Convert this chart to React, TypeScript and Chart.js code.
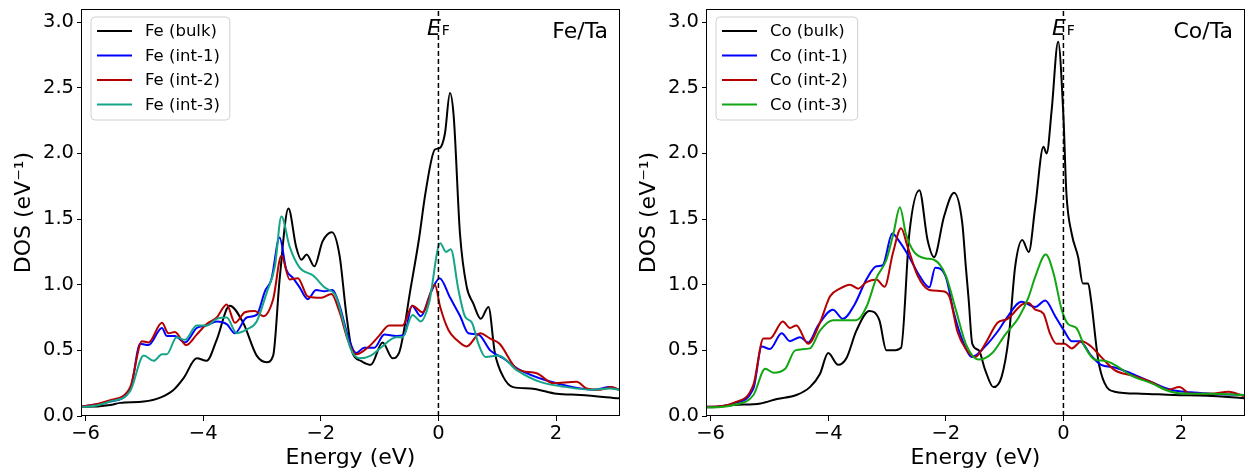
import React, { useEffect, useRef } from 'react';
import { Chart, registerables } from 'chart.js';

Chart.register(...registerables);

// ---------- axes ----------
const X_MIN = -6.06;
const X_MAX = 3.07;
const Y_MIN = 0;
const Y_MAX = 3.1;
const X_TICKS = [-6, -4, -2, 0, 2];
const Y_TICKS = [0, 0.5, 1.0, 1.5, 2.0, 2.5, 3.0];
const X_TITLE = 'Energy (eV)';
const Y_TITLE = 'DOS (eV\u207B\u00B9)';

// ---------- Fe/Ta panel ----------
const FE_LABELS = ['Fe (bulk)', 'Fe (int-1)', 'Fe (int-2)', 'Fe (int-3)'];
const FE_COLORS = ['#000000', '#0000ff', '#b40000', '#14a589'];

const feBulkE = [-6.06, -6.0, -5.58, -5.41, -5.01, -4.73, -4.5, -4.33, -4.11, -3.94, -3.77, -3.55, -3.32, -3.09, -2.92, -2.81, -2.7, -2.55, -2.42, -2.33, -2.24, -2.11, -1.97, -1.81, -1.68, -1.57, -1.46, -1.32, -1.15, -0.95, -0.78, -0.67, -0.47, -0.33, -0.22, -0.06, 0.02, 0.11, 0.196, 0.26, 0.366, 0.48, 0.59, 0.72, 0.85, 0.96, 1.1, 1.27, 1.56, 2.01, 2.41, 3.07];
const feBulkDos = [0.07, 0.07, 0.084, 0.1, 0.11, 0.14, 0.2, 0.29, 0.44, 0.42, 0.58, 0.84, 0.71, 0.46, 0.41, 0.46, 1.04, 1.58, 1.29, 1.19, 1.23, 1.14, 1.33, 1.4, 1.22, 0.79, 0.48, 0.42, 0.39, 0.56, 0.44, 0.48, 0.98, 1.35, 1.7, 2.03, 2.04, 2.15, 2.46, 2.28, 1.39, 0.985, 0.86, 0.74, 0.83, 0.48, 0.3, 0.22, 0.21, 0.17, 0.16, 0.135];

const feInt1E = [-6.06, -6.0, -5.58, -5.24, -5.07, -4.93, -4.7, -4.62, -4.48, -4.31, -4.11, -3.94, -3.77, -3.6, -3.46, -3.26, -3.09, -2.95, -2.84, -2.7, -2.59, -2.47, -2.36, -2.22, -2.08, -1.94, -1.8, -1.68, -1.54, -1.4, -1.26, -1.09, -0.92, -0.72, -0.58, -0.45, -0.3, -0.13, 0.02, 0.2, 0.37, 0.51, 0.68, 0.88, 1.1, 1.39, 1.84, 2.29, 2.63, 2.92, 3.07];
const feInt1Dos = [0.075, 0.076, 0.11, 0.2, 0.55, 0.54, 0.67, 0.61, 0.61, 0.56, 0.67, 0.69, 0.72, 0.7, 0.63, 0.75, 0.77, 0.95, 1.04, 1.36, 1.12, 1.05, 0.98, 0.89, 0.96, 0.95, 0.96, 0.84, 0.61, 0.48, 0.52, 0.52, 0.62, 0.61, 0.62, 0.84, 0.76, 0.94, 1.05, 0.9, 0.76, 0.63, 0.62, 0.5, 0.44, 0.35, 0.27, 0.22, 0.2, 0.22, 0.2];

const feInt2E = [-6.06, -6.0, -5.58, -5.24, -5.04, -4.93, -4.7, -4.59, -4.48, -4.29, -4.11, -3.94, -3.77, -3.6, -3.46, -3.29, -3.12, -2.98, -2.81, -2.67, -2.53, -2.39, -2.22, -1.99, -1.82, -1.68, -1.54, -1.4, -1.18, -1.01, -0.84, -0.61, -0.44, -0.27, -0.06, 0.03, 0.17, 0.31, 0.48, 0.71, 0.88, 1.04, 1.33, 1.67, 1.95, 2.35, 2.52, 2.75, 2.94, 3.07];
const feInt2Dos = [0.075, 0.076, 0.12, 0.22, 0.57, 0.56, 0.71, 0.63, 0.64, 0.54, 0.62, 0.7, 0.75, 0.85, 0.71, 0.79, 0.8, 0.76, 0.89, 1.22, 1.04, 1.05, 0.91, 0.9, 0.93, 0.79, 0.58, 0.47, 0.53, 0.61, 0.69, 0.69, 0.84, 0.79, 1.0, 0.83, 0.655, 0.58, 0.53, 0.63, 0.59, 0.55, 0.36, 0.325, 0.25, 0.26, 0.21, 0.2, 0.22, 0.2];

const feInt3E = [-6.06, -6.0, -5.58, -5.24, -5.01, -4.84, -4.7, -4.62, -4.45, -4.31, -4.11, -3.94, -3.77, -3.6, -3.43, -3.26, -3.09, -2.92, -2.78, -2.67, -2.53, -2.36, -2.13, -1.94, -1.74, -1.63, -1.49, -1.34, -1.15, -0.98, -0.72, -0.61, -0.44, -0.3, -0.16, 0.03, 0.13, 0.21, 0.34, 0.45, 0.57, 0.68, 0.8, 1.02, 1.33, 1.73, 2.18, 2.63, 2.92, 3.07];
const feInt3Dos = [0.07, 0.07, 0.11, 0.19, 0.46, 0.42, 0.47, 0.47, 0.6, 0.58, 0.69, 0.69, 0.74, 0.75, 0.63, 0.66, 0.72, 0.94, 1.14, 1.52, 1.29, 1.13, 1.07, 0.98, 0.91, 0.74, 0.51, 0.44, 0.46, 0.52, 0.6, 0.6, 0.77, 0.72, 0.86, 1.315, 1.25, 1.27, 0.96, 0.76, 0.71, 0.55, 0.45, 0.46, 0.35, 0.26, 0.22, 0.2, 0.21, 0.2];

// ---------- Co/Ta panel ----------
const CO_LABELS = ['Co (bulk)', 'Co (int-1)', 'Co (int-2)', 'Co (int-3)'];
const CO_COLORS = ['#000000', '#0000ff', '#b40000', '#12a612'];

const coBulkE = [-6.06, -6.0, -5.61, -5.15, -4.87, -4.54, -4.31, -4.14, -4.0, -3.83, -3.69, -3.52, -3.3, -3.13, -3.01, -2.9, -2.76, -2.62, -2.45, -2.31, -2.2, -2.03, -1.86, -1.72, -1.66, -1.61, -1.55, -1.44, -1.33, -1.19, -1.05, -0.93, -0.82, -0.7, -0.59, -0.48, -0.34, -0.285, -0.2, -0.09, 0.0, 0.05, 0.14, 0.25, 0.33, 0.42, 0.47, 0.59, 0.7, 0.87, 1.32, 1.88, 2.45, 3.07];
const coBulkDos = [0.066, 0.066, 0.084, 0.096, 0.13, 0.16, 0.22, 0.32, 0.48, 0.39, 0.44, 0.65, 0.8, 0.73, 0.5, 0.5, 0.52, 1.39, 1.72, 1.34, 1.21, 1.52, 1.7, 1.47, 1.14, 0.88, 0.55, 0.5, 0.35, 0.22, 0.3, 0.6, 1.14, 1.34, 1.25, 1.59, 2.05, 2.0, 2.33, 2.85, 2.28, 1.7, 1.39, 1.21, 1.01, 1.01, 0.88, 0.43, 0.25, 0.185, 0.17, 0.16, 0.155, 0.135];

const coInt1E = [-6.06, -6.0, -5.61, -5.27, -5.13, -4.99, -4.79, -4.65, -4.48, -4.34, -4.17, -3.92, -3.75, -3.55, -3.35, -3.18, -3.07, -2.91, -2.79, -2.62, -2.45, -2.28, -2.18, -2.0, -1.86, -1.72, -1.55, -1.33, -1.1, -0.99, -0.71, -0.48, -0.31, -0.14, 0.01, 0.14, 0.28, 0.47, 0.64, 0.87, 1.15, 1.49, 1.83, 2.16, 2.5, 3.07];
const coInt1Dos = [0.07, 0.07, 0.096, 0.21, 0.53, 0.51, 0.63, 0.57, 0.6, 0.56, 0.69, 0.81, 0.74, 0.85, 1.04, 1.14, 1.15, 1.39, 1.33, 1.21, 1.07, 0.98, 1.13, 1.06, 0.78, 0.58, 0.45, 0.53, 0.655, 0.73, 0.87, 0.83, 0.88, 0.76, 0.65, 0.57, 0.57, 0.46, 0.39, 0.37, 0.325, 0.26, 0.2, 0.18, 0.17, 0.16];

const coInt2E = [-6.06, -6.0, -5.61, -5.27, -5.1, -4.99, -4.77, -4.65, -4.54, -4.34, -4.14, -3.97, -3.8, -3.63, -3.49, -3.35, -3.18, -3.04, -2.9, -2.76, -2.65, -2.48, -2.28, -2.06, -1.94, -1.8, -1.66, -1.5, -1.33, -1.12, -0.95, -0.7, -0.59, -0.48, -0.34, -0.23, -0.12, 0.02, 0.14, 0.31, 0.47, 0.64, 0.87, 1.15, 1.49, 1.78, 1.97, 2.16, 2.5, 2.81, 3.07];
const coInt2Dos = [0.07, 0.07, 0.1, 0.24, 0.59, 0.59, 0.72, 0.67, 0.69, 0.55, 0.71, 0.91, 0.97, 1.0, 0.97, 1.02, 1.04, 0.985, 1.24, 1.43, 1.29, 1.07, 0.96, 0.95, 0.91, 0.64, 0.51, 0.45, 0.55, 0.71, 0.74, 0.85, 0.86, 0.81, 0.78, 0.63, 0.55, 0.55, 0.515, 0.57, 0.53, 0.45, 0.35, 0.31, 0.26, 0.2, 0.22, 0.17, 0.17, 0.185, 0.15];

const coInt3E = [-6.06, -6.0, -5.61, -5.27, -5.07, -4.93, -4.73, -4.56, -4.31, -4.14, -3.92, -3.69, -3.52, -3.35, -3.18, -3.01, -2.89, -2.78, -2.68, -2.54, -2.34, -2.2, -2.0, -1.83, -1.66, -1.44, -1.21, -0.99, -0.76, -0.59, -0.48, -0.3, -0.17, -0.03, 0.08, 0.22, 0.36, 0.53, 0.7, 0.87, 1.15, 1.49, 1.83, 2.16, 2.5, 3.07];
const coInt3Dos = [0.066, 0.066, 0.084, 0.16, 0.36, 0.33, 0.36, 0.5, 0.515, 0.65, 0.73, 0.73, 0.73, 0.83, 1.05, 1.19, 1.39, 1.59, 1.39, 1.25, 1.2, 1.19, 1.07, 0.81, 0.55, 0.43, 0.48, 0.62, 0.75, 0.91, 1.06, 1.23, 1.09, 0.81, 0.7, 0.67, 0.53, 0.43, 0.42, 0.39, 0.31, 0.25, 0.185, 0.17, 0.17, 0.16];

// Fermi level
const FERMI_E = [0, 0];
const FERMI_DOS = [Y_MIN, Y_MAX];

const FONT = 'DejaVu Sans';

function pts(xs: number[], ys: number[]) {
  return xs.map((x, i) => ({ x, y: ys[i] }));
}

function fmtMinus(v: number, digits: number | null) {
  const s = digits === null ? String(v) : Number(v).toFixed(digits);
  return s.replace('-', '\u2212');
}

const decorPlugin = {
  id: 'decor',
  afterDraw(chart: any, _args: any, opts: any) {
    const ctx = chart.ctx as CanvasRenderingContext2D;
    const ca = chart.chartArea;
    const xs = chart.scales.x;
    ctx.save();

    // frame (spines)
    ctx.strokeStyle = '#000';
    ctx.lineWidth = 1;
    ctx.strokeRect(Math.round(ca.left) - 0.5, Math.round(ca.top) + 0.5, Math.round(ca.right - ca.left) + 1, Math.round(ca.bottom - ca.top) - 1);

    // E_F label
    const x0 = xs.getPixelForValue(0);
    ctx.fillStyle = '#000';
    ctx.textBaseline = 'alphabetic';
    ctx.font = `italic 22px "${FONT}"`;
    const wE = ctx.measureText('E').width;
    ctx.font = `14px "${FONT}"`;
    const wF = ctx.measureText('F').width;
    const total = wE + 1 + wF;
    const sx = x0 - total / 2;
    const by = ca.top + 26;
    ctx.font = `italic 22px "${FONT}"`;
    ctx.textAlign = 'left';
    ctx.fillText('E', sx, by);
    ctx.font = `14px "${FONT}"`;
    ctx.fillText('F', sx + wE + 1, by);

    // panel label
    ctx.font = `22px "${FONT}"`;
    ctx.textAlign = 'right';
    ctx.fillText(opts.panelLabel, ca.right - 11, ca.top + 29);

    // legend
    const ds = chart.data.datasets.filter((d: any) => !d.isRef);
    ctx.font = `16.5px "${FONT}"`;
    let maxW = 0;
    ds.forEach((d: any) => { maxW = Math.max(maxW, ctx.measureText(d.label).width); });
    const bx = ca.left + 9;
    const byTop = ca.top + 8;
    const bw = 54 + maxW + 10;
    const bh = 103;
    const r = 4;
    ctx.beginPath();
    ctx.moveTo(bx + r, byTop);
    ctx.lineTo(bx + bw - r, byTop);
    ctx.quadraticCurveTo(bx + bw, byTop, bx + bw, byTop + r);
    ctx.lineTo(bx + bw, byTop + bh - r);
    ctx.quadraticCurveTo(bx + bw, byTop + bh, bx + bw - r, byTop + bh);
    ctx.lineTo(bx + r, byTop + bh);
    ctx.quadraticCurveTo(bx, byTop + bh, bx, byTop + bh - r);
    ctx.lineTo(bx, byTop + r);
    ctx.quadraticCurveTo(bx, byTop, bx + r, byTop);
    ctx.closePath();
    ctx.fillStyle = 'rgba(255,255,255,0.8)';
    ctx.fill();
    ctx.strokeStyle = '#d0d0d0';
    ctx.lineWidth = 1;
    ctx.stroke();

    ds.forEach((d: any, i: number) => {
      const y = ca.top + 22 + i * 24.5;
      ctx.beginPath();
      ctx.strokeStyle = d.borderColor;
      ctx.lineWidth = 2;
      ctx.moveTo(ca.left + 15, y);
      ctx.lineTo(ca.left + 50, y);
      ctx.stroke();
      ctx.fillStyle = '#000';
      ctx.textAlign = 'left';
      ctx.textBaseline = 'middle';
      ctx.fillText(d.label, ca.left + 63, y + 1);
    });

    ctx.restore();
  },
};

function buildConfig(labels: string[], colors: string[], series: { x: number; y: number }[][], panelLabel: string) {
  const datasets: any[] = series.map((data, i) => ({
    label: labels[i],
    data,
    borderColor: colors[i],
    backgroundColor: colors[i],
    borderWidth: 2,
    pointRadius: 0,
    fill: false,
    cubicInterpolationMode: 'monotone',
    order: series.length - i + 1,
  }));
  datasets.push({
    label: '',
    isRef: true,
    data: pts(FERMI_E, FERMI_DOS),
    borderColor: '#000',
    borderWidth: 1.5,
    borderDash: [5, 3],
    pointRadius: 0,
    fill: false,
    order: 0,
  });

  const tickFont = { family: FONT, size: 19.5 };
  const titleFont = { family: FONT, size: 22 };

  return {
    type: 'line' as const,
    data: { datasets },
    options: {
      animation: false,
      responsive: false,
      devicePixelRatio: 1,
      events: [],
      layout: { padding: { top: 9, right: 7, left: 0, bottom: 0 } },
      plugins: {
        legend: { display: false },
        tooltip: { enabled: false },
        decor: { panelLabel },
      },
      scales: {
        x: {
          type: 'linear',
          min: X_MIN,
          max: X_MAX,
          afterBuildTicks: (s: any) => { s.ticks = X_TICKS.map((value) => ({ value })); },
          afterFit: (s: any) => { s.height = 60; s.paddingLeft = 0; s.paddingRight = 0; s.paddingTop = 0; s.paddingBottom = 0; },
          ticks: {
            font: tickFont,
            color: '#000',
            padding: 1,
            maxRotation: 0,
            autoSkip: false,
            callback: (v: any) => fmtMinus(Number(v), null),
          },
          grid: { display: true, drawOnChartArea: false, drawTicks: true, tickLength: 5, tickColor: '#000', tickWidth: 1 },
          border: { display: false },
          title: { display: true, text: X_TITLE, font: titleFont, color: '#000', padding: { top: 0, bottom: 5 } },
        },
        y: {
          type: 'linear',
          min: Y_MIN,
          max: Y_MAX,
          afterBuildTicks: (s: any) => { s.ticks = Y_TICKS.map((value) => ({ value })); },
          afterFit: (s: any) => { s.width = 82; s.paddingLeft = 0; s.paddingRight = 0; s.paddingTop = 0; s.paddingBottom = 0; },
          ticks: {
            font: tickFont,
            color: '#000',
            padding: 3,
            autoSkip: false,
            callback: (v: any) => fmtMinus(Number(v), 1),
          },
          grid: { display: true, drawOnChartArea: false, drawTicks: true, tickLength: 5, tickColor: '#000', tickWidth: 1 },
          border: { display: false },
          title: { display: true, text: Y_TITLE, font: titleFont, color: '#000', padding: { top: 11, bottom: 0 } },
        },
      },
    },
    plugins: [decorPlugin],
  };
}

function Panel(props: { left: number; labels: string[]; colors: string[]; series: { x: number; y: number }[][]; panelLabel: string }) {
  const ref = useRef<HTMLCanvasElement | null>(null);
  useEffect(() => {
    if (!ref.current) return;
    const chart = new Chart(ref.current, buildConfig(props.labels, props.colors, props.series, props.panelLabel) as any);
    return () => chart.destroy();
  }, []);
  return (
    <div style={{ position: 'absolute', left: props.left, top: 0, width: 626, height: 476 }}>
      <canvas ref={ref} width={626} height={476} style={{ display: 'block', width: 626, height: 476 }} />
    </div>
  );
}

export default function App() {
  const feSeries = [pts(feBulkE, feBulkDos), pts(feInt1E, feInt1Dos), pts(feInt2E, feInt2Dos), pts(feInt3E, feInt3Dos)];
  const coSeries = [pts(coBulkE, coBulkDos), pts(coInt1E, coInt1Dos), pts(coInt2E, coInt2Dos), pts(coInt3E, coInt3Dos)];
  return (
    <div style={{ position: 'absolute', left: 0, top: 0, width: 1252, height: 476, background: '#fff' }}>
      <Panel left={0} labels={FE_LABELS} colors={FE_COLORS} series={feSeries} panelLabel="Fe/Ta" />
      <Panel left={625} labels={CO_LABELS} colors={CO_COLORS} series={coSeries} panelLabel="Co/Ta" />
    </div>
  );
}
